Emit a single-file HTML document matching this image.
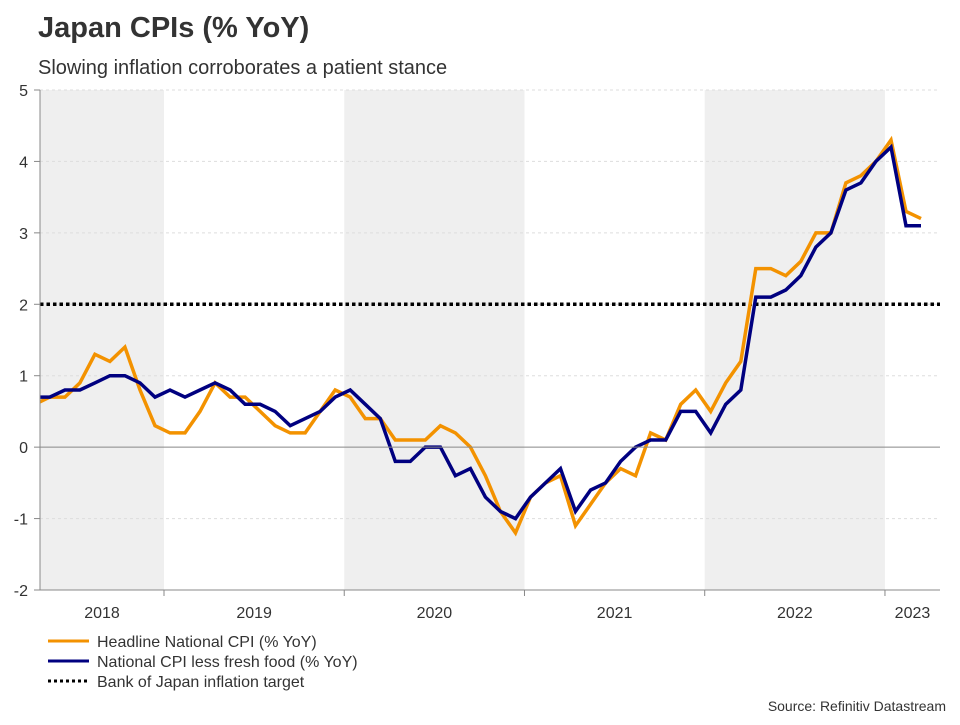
<!DOCTYPE html>
<html><head><meta charset="utf-8">
<style>
html,body{margin:0;padding:0;background:#fff;}
body{width:960px;height:720px;position:relative;overflow:hidden;font-family:"Liberation Sans",Arial,sans-serif;color:#333;}
svg text{font-family:"Liberation Sans",Arial,sans-serif;}
</style></head>
<body>
<svg id="chart" width="960" height="720" xmlns="http://www.w3.org/2000/svg">
<text x="38" y="37" font-size="29" font-weight="bold" fill="#333">Japan CPIs (% YoY)</text>
<text x="38" y="74" font-size="20" fill="#333">Slowing inflation corroborates a patient stance</text>
<g id="bands"></g>
<g id="grid"></g>
<g id="series"></g>
<g id="axes"></g>
<g>
<line x1="48" y1="641" x2="89" y2="641" stroke="#F39200" stroke-width="3"/>
<text x="97" y="647" font-size="16" fill="#333">Headline National CPI (% YoY)</text>
<line x1="48" y1="661" x2="89" y2="661" stroke="#000080" stroke-width="3"/>
<text x="97" y="667" font-size="16" fill="#333">National CPI less fresh food (% YoY)</text>
<line x1="48" y1="681" x2="89" y2="681" stroke="#000" stroke-width="3" stroke-dasharray="3,3"/>
<text x="97" y="687" font-size="16" fill="#333">Bank of Japan inflation target</text>
</g>
<text x="946" y="711" font-size="14" fill="#333" text-anchor="end">Source: Refinitiv Datastream</text>
</svg>
<script>
// months index from Jan 2018 = 0; data from Apr 2018 (index 3) to Mar 2023 (index 62)
const startMonth = 3;
const headline = [0.6,0.7,0.7,0.9,1.3,1.2,1.4,0.8,0.3,
  0.2,0.2,0.5,0.9,0.7,0.7,0.5,0.3,0.2,0.2,0.5,0.8,
  0.7,0.4,0.4,0.1,0.1,0.1,0.3,0.2,0.0,-0.4,-0.9,-1.2,
  -0.7,-0.5,-0.4,-1.1,-0.8,-0.5,-0.3,-0.4,0.2,0.1,0.6,0.8,
  0.5,0.9,1.2,2.5,2.5,2.4,2.6,3.0,3.0,3.7,3.8,4.0,
  4.3,3.3,3.2];
const core = [0.7,0.7,0.8,0.8,0.9,1.0,1.0,0.9,0.7,
  0.8,0.7,0.8,0.9,0.8,0.6,0.6,0.5,0.3,0.4,0.5,0.7,
  0.8,0.6,0.4,-0.2,-0.2,0.0,0.0,-0.4,-0.3,-0.7,-0.9,-1.0,
  -0.7,-0.5,-0.3,-0.9,-0.6,-0.5,-0.2,0.0,0.1,0.1,0.5,0.5,
  0.2,0.6,0.8,2.1,2.1,2.2,2.4,2.8,3.0,3.6,3.7,4.0,
  4.2,3.1,3.1];
const target = [2];
const yTicks = [-2,-1,0,1,2,3,4,5];
const years = ["2018","2019","2020","2021","2022","2023"];

const NS="http://www.w3.org/2000/svg";
const L=40,R=940,T=90,B=590,yMin=-2,yMax=5;
const monthW=15.02, jan2019X=164;
function xScale(m){return jan2019X+(m-12+0.4)*monthW;}
function yearX(i){return jan2019X+(i-1)*12*monthW;}
function yScale(v){return B-(v-yMin)/(yMax-yMin)*(B-T);}
function mk(tag,attrs,parent){const e=document.createElementNS(NS,tag);for(const k in attrs)e.setAttribute(k,attrs[k]);parent.appendChild(e);return e;}

const bands=document.getElementById('bands');
years.forEach((y,i)=>{
  if(i%2===0){
    const x0=Math.max(L,yearX(i)), x1=Math.min(R,yearX(i+1));
    if(i===years.length-1) return;
    const r=mk('rect',{x:x0,y:T,width:x1-x0,height:B-T,fill:'#efefef'},bands);
    
    
  }
});
const grid=document.getElementById('grid');
const axes=document.getElementById('axes');
yTicks.forEach(v=>{
  const y=yScale(v);
  if(v!==0&&v!==yMin){
    const g=mk('line',{x1:L,x2:R,y1:y,y2:y,stroke:'#dddddd','stroke-width':1,'stroke-dasharray':'3,3'},grid);
    
    
  }
  const t=mk('line',{x1:L-6,x2:L,y1:y,y2:y,stroke:'#888','stroke-width':1},axes);
  
  
  const lb=mk('text',{x:L-12,y:y+6,'font-size':16,fill:'#333','text-anchor':'end'},axes);
  lb.textContent=v;
  
  
});
const zl=mk('line',{x1:L,x2:R,y1:yScale(0),y2:yScale(0),stroke:'#888','stroke-width':1},axes);


const ya=mk('line',{x1:L,x2:L,y1:T,y2:B,stroke:'#888','stroke-width':1},axes);


const xa=mk('line',{x1:L,x2:R,y1:B,y2:B,stroke:'#888','stroke-width':1},axes);


years.forEach((y,i)=>{
  const bx=yearX(i);
  if(i>0){
    const t=mk('line',{x1:bx,x2:bx,y1:B,y2:B+6,stroke:'#888'},axes);
    
    
  }
  const x0=Math.max(L,bx), x1=Math.min(R,yearX(i+1));
  const lb=mk('text',{x:(x0+x1)/2,y:618,'font-size':16,fill:'#333','text-anchor':'middle'},axes);
  lb.textContent=y;
  
  
});

const series=document.getElementById('series');
const cp=mk('clipPath',{id:'plotclip'},series);
mk('rect',{x:L,y:T-10,width:R-L,height:B-T+20},cp);
const tl=mk('line',{x1:L,x2:R,y1:yScale(target[0]),y2:yScale(target[0]),stroke:'#000','stroke-width':3.5,'stroke-dasharray':'3.5,3'},series);


function path(arr){return arr.map((v,i)=>(i?'L':'M')+xScale(startMonth+i).toFixed(1)+','+yScale(v).toFixed(1)).join(' ');}
const p1=mk('path',{d:path(headline),fill:'none',stroke:'#F39200','stroke-width':3.5,'stroke-linejoin':'miter','clip-path':'url(#plotclip)'},series);


const p2=mk('path',{d:path(core),fill:'none',stroke:'#000080','stroke-width':3.5,'stroke-linejoin':'miter','clip-path':'url(#plotclip)'},series);


</script>
</body></html>
